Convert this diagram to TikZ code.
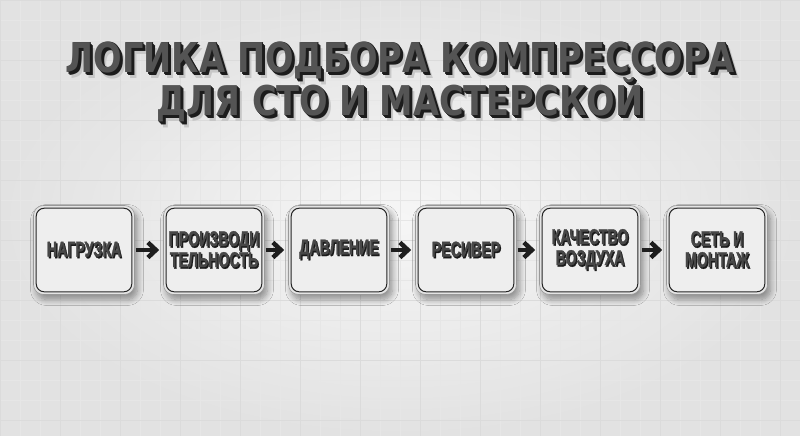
\documentclass[tikz,border=0pt]{standalone}
\usepackage{fontspec}
\usetikzlibrary{arrows.meta,shadows.blur}
\newfontfamily\titlefont{DejaVu Sans}[FakeStretch=0.82]
\newfontfamily\boxfont{Liberation Sans}[FakeStretch=0.66,FakeBold=1.2]
\definecolor{bgin}{HTML}{F6F6F6}
\definecolor{bgout}{HTML}{E2E2E2}
\definecolor{gridminor}{HTML}{E6E6E6}
\definecolor{gridmajor}{HTML}{DBDBDB}
\definecolor{titleface}{HTML}{545454}
\definecolor{titleedge}{HTML}{1C1C1C}
\definecolor{boxfill}{HTML}{EEEEEE}
\definecolor{boxring}{HTML}{E4E4E4}
\definecolor{boxedge}{HTML}{252525}
\definecolor{labelface}{HTML}{474747}
\definecolor{arrowcol}{HTML}{1E1E1E}
\tikzset{
  titletext/.style={font=\titlefont\bfseries\fontsize{41}{41}\selectfont, inner sep=0pt, anchor=base},
  boxtext/.style={font=\boxfont\bfseries\fontsize{21.5}{21}\selectfont, align=center, inner sep=0pt},
  stepbox/.style={draw=gray!80, line width=0.6pt, fill=boxring, rounded corners=10pt,
    minimum width=101pt, minimum height=89pt, inner sep=0pt,
    blur shadow={shadow xshift=3pt, shadow yshift=-5pt, shadow blur steps=10, shadow opacity=40, shadow blur radius=6pt}},
  innerbox/.style={draw=boxedge, line width=1pt, fill=boxfill, rounded corners=8pt},
  flowarrow/.style={draw=arrowcol, line width=4.5pt, -{Straight Barb[length=8pt,width=15pt,line width=4.5pt]}, shorten <=1pt, shorten >=4pt}
}
% one text node per line; the extruded edge and the shadow are overlaid inside it
\newcommand{\layered}[1]{%
  \makebox[0pt][l]{\raisebox{-6pt}{\hspace*{5pt}\textcolor{black!22}{#1}}}%
  \makebox[0pt][l]{\raisebox{-3pt}{\hspace*{3pt}\textcolor{titleedge}{#1}}}%
  \makebox[0pt][l]{\raisebox{-2pt}{\hspace*{2pt}\textcolor{titleedge}{#1}}}%
  \makebox[0pt][l]{\raisebox{-1pt}{\hspace*{1pt}\textcolor{titleedge}{#1}}}%
  \textcolor{titleface}{#1}}
\newcommand{\boxlayered}[1]{%
  \makebox[0pt][l]{\raisebox{-1.6pt}{\hspace*{1.2pt}\textcolor{black!90}{#1}}}%
  \textcolor{labelface}{#1}}
\begin{document}
\begin{tikzpicture}[x=1pt,y=-1pt]
\useasboundingbox (0,0) rectangle (800,436);
\shade[inner color=bgin, outer color=bgout] (0,0) rectangle (800,436);
\draw[gridminor, line width=0.35pt, step=20pt] (0,0) grid (800,436);
\draw[gridmajor, line width=0.5pt, step=60pt] (0,0) grid (800,436);
% title
\node[titletext] (title1) at (400,72) {\layered{ЛОГИКА ПОДБОРА КОМПРЕССОРА}};
\node[titletext] (title2) at (400,115) {\layered{ДЛЯ СТО И МАСТЕРСКОЙ}};
% boxes
\foreach \n/\x/\ta/\tb in {1/84/{НАГРУЗКА}/{},2/214/{ПРОИЗВОДИ}/{ТЕЛЬНОСТЬ},3/339/{ДАВЛЕНИЕ}/{},4/466/{РЕСИВЕР}/{},5/590/{КАЧЕСТВО}/{ВОЗДУХА},6/717/{СЕТЬ И}/{МОНТАЖ}}{
  \node[stepbox] (b\n) at (\x,250) {};
  \draw[innerbox] ([xshift=3pt,yshift=-3pt]b\n.north west) rectangle ([xshift=-3pt,yshift=3pt]b\n.south east);
  \if\relax\detokenize\expandafter{\tb}\relax
    \node[boxtext] (t\n) at (b\n.center) {\boxlayered{\ta}};
  \else
    \node[boxtext] (t\n) at (b\n.center) {\boxlayered{\ta}\\\boxlayered{\tb}};
  \fi
}
\foreach \a/\b in {1/2,2/3,3/4,4/5,5/6}{
  \draw[flowarrow] (b\a.east) -- (b\b.west);
}
\end{tikzpicture}
\end{document}
